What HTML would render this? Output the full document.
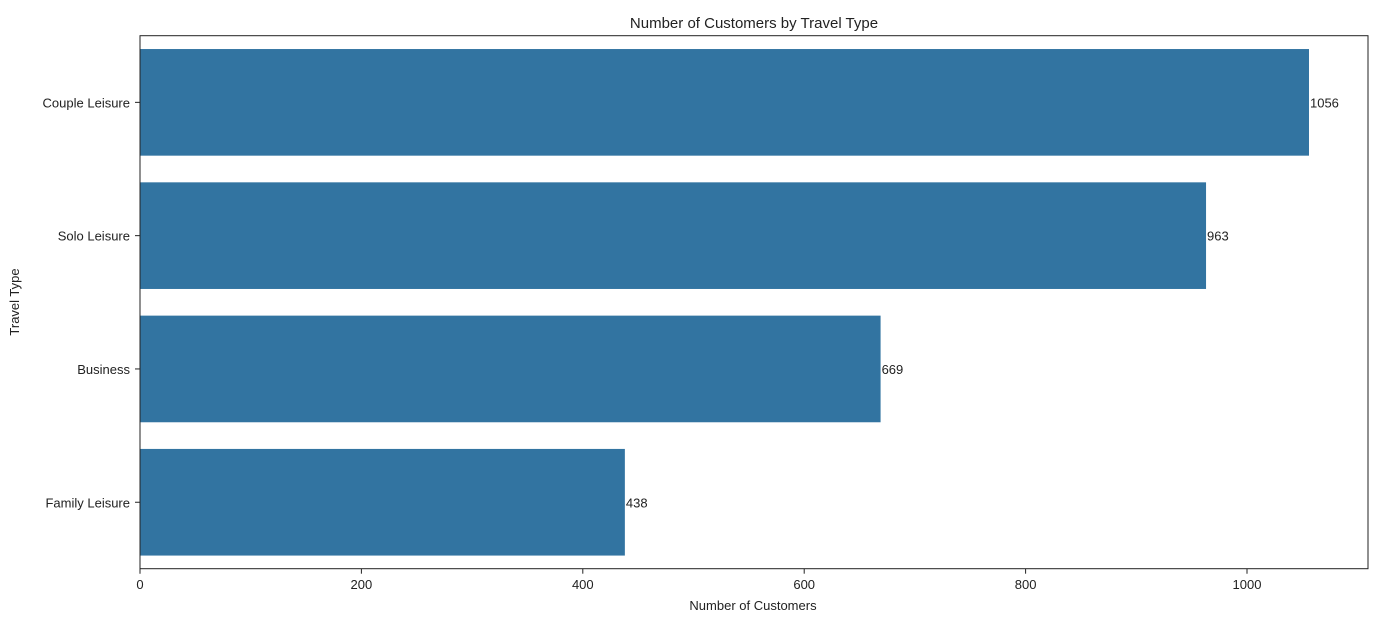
<!DOCTYPE html>
<html><head><meta charset="utf-8"><style>
body{margin:0;background:#fff;}
svg text{font-family:"Liberation Sans","DejaVu Sans",sans-serif;fill:#222;}
</style></head><body>
<svg id="chart" width="1390" height="633">
<text x="754" y="28" font-size="15" text-anchor="middle">Number of Customers by Travel Type</text>
<g id="bars"></g><g id="xticks"></g><g id="yticks"></g>
<rect x="140" y="35.7" width="1228" height="533" fill="none" stroke="#222" stroke-width="1"/>
<text x="753" y="610" font-size="13" text-anchor="middle">Number of Customers</text>
<text transform="translate(19,302) rotate(-90)" font-size="13" text-anchor="middle">Travel Type</text>
</svg>
<script>
const categories=["Couple Leisure","Solo Leisure","Business","Family Leisure"];
const values=[1056,963,669,438];
const xTicks=[0,200,400,600,800,1000];
const ns="http://www.w3.org/2000/svg";
const x0=140,pxPer=1.107,plotTop=35.7,band=133.3;
const X=v=>x0+v*pxPer;
const Yc=i=>plotTop+band*(i+0.5);
function mk(t,a,p){const e=document.createElementNS(ns,t);for(const k in a)e.setAttribute(k,a[k]);document.getElementById(p).appendChild(e);return e;}
categories.forEach((c,i)=>{
 const r=mk("rect",{x:X(0),y:Yc(i)-band*0.4,width:X(values[i])-X(0),height:band*0.8,fill:"#3274a1"},"bars");
 
 
 const l=mk("text",{x:X(values[i])+1,y:Yc(i)+5,"font-size":13},"bars");l.textContent=values[i];
 
 
 mk("line",{x1:135,x2:140,y1:Yc(i),y2:Yc(i),stroke:"#222"},"yticks");
 const t=mk("text",{x:130,y:Yc(i)+5,"font-size":13,"text-anchor":"end"},"yticks");t.textContent=c;
 
 
});
xTicks.forEach(v=>{
 mk("line",{x1:X(v),x2:X(v),y1:568.7,y2:573.7,stroke:"#222"},"xticks");
 const t=mk("text",{x:X(v),y:589,"font-size":13,"text-anchor":"middle"},"xticks");t.textContent=v;
 
 
});
</script>
</body></html>
